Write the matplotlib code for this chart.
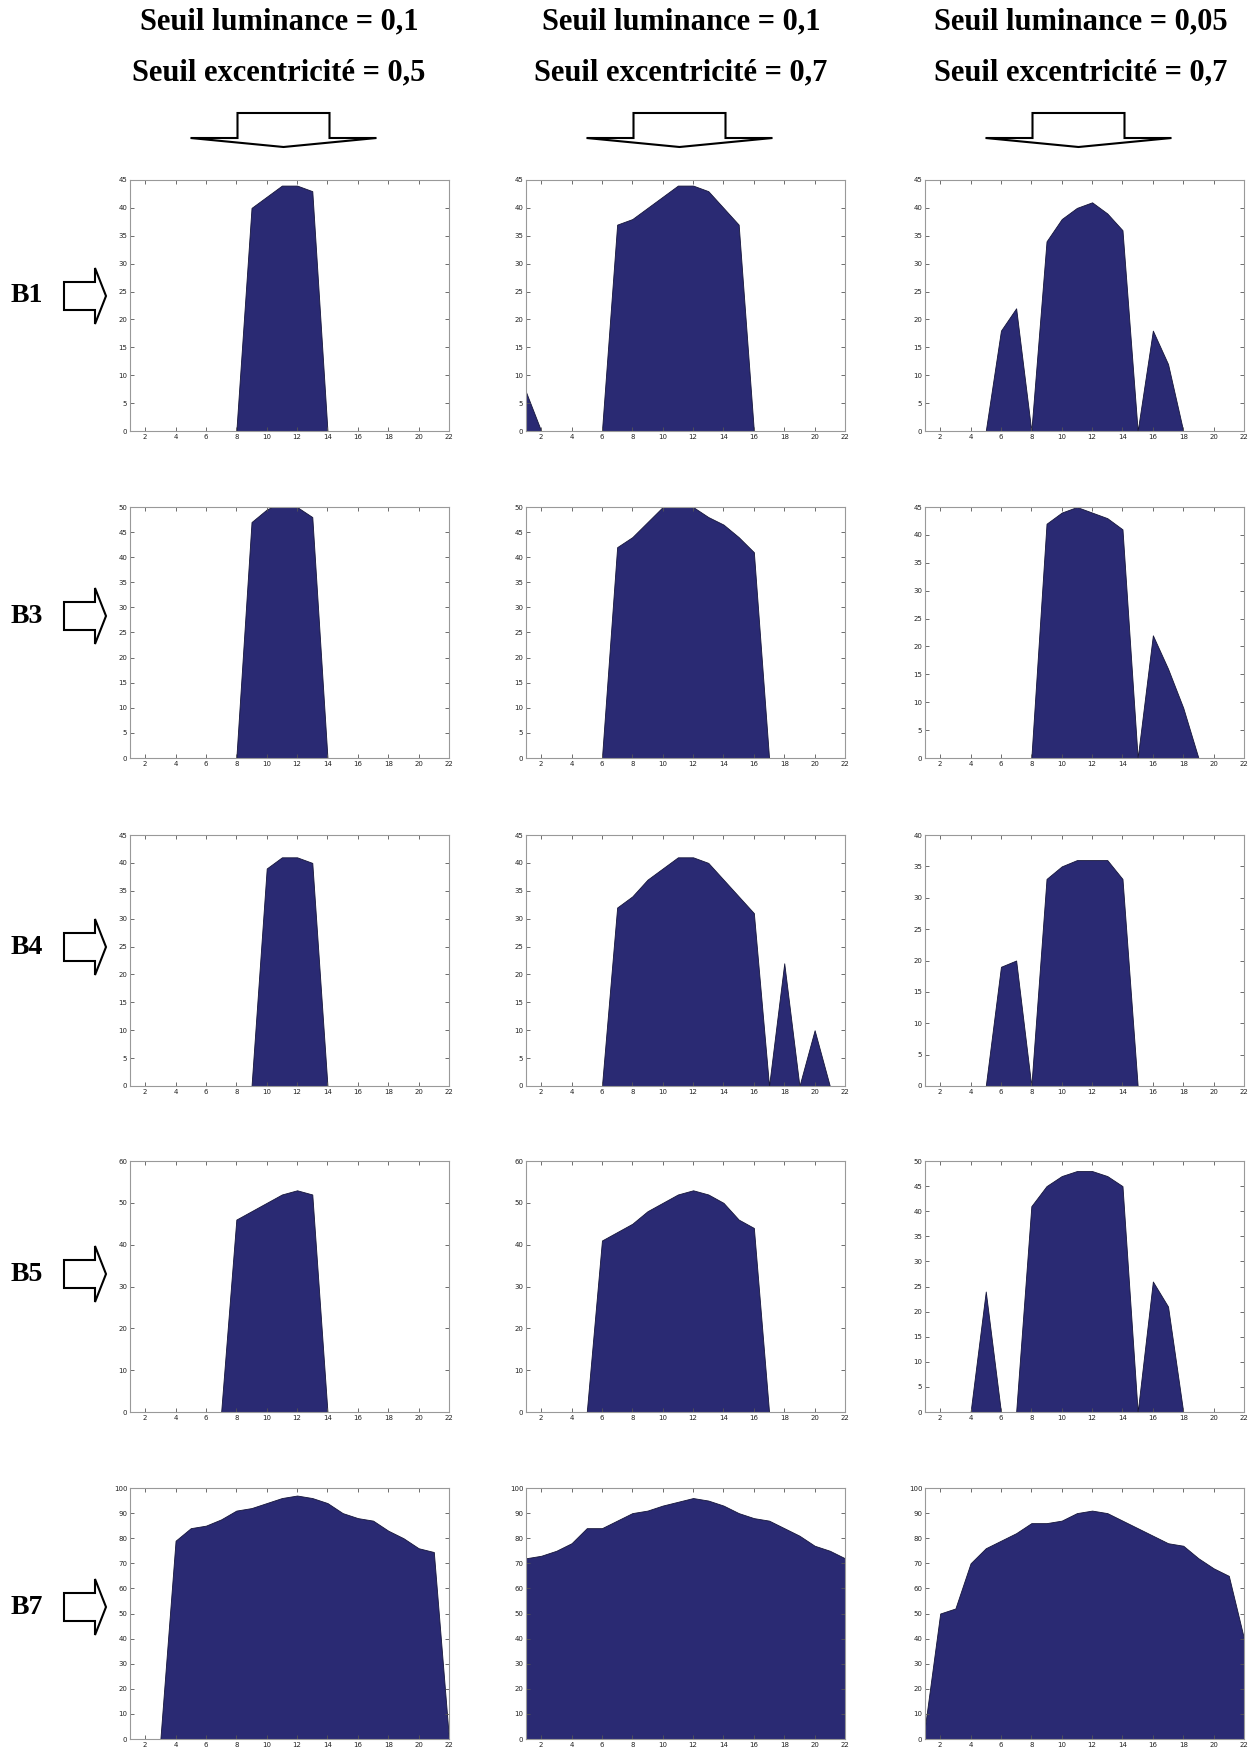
import matplotlib.pyplot as plt
from matplotlib.patches import Polygon

x = list(range(1, 23))

col_titles_1 = ['Seuil luminance = 0,1', 'Seuil luminance = 0,1', 'Seuil luminance = 0,05']
col_titles_2 = ['Seuil excentricité = 0,5', 'Seuil excentricité = 0,7', 'Seuil excentricité = 0,7']
row_labels = ['B1', 'B3', 'B4', 'B5', 'B7']

# one list of 22 values (x = 1..22) per panel
b1_a = [0, 0, 0, 0, 0, 0, 0, 0, 40, 42, 44, 44, 43, 0, 0, 0, 0, 0, 0, 0, 0, 0]
b1_b = [7, 0, 0, 0, 0, 0, 37, 38, 40, 42, 44, 44, 43, 40, 37, 0, 0, 0, 0, 0, 0, 0]
b1_c = [0, 0, 0, 0, 0, 18, 22, 0, 34, 38, 40, 41, 39, 36, 0, 18, 12, 0, 0, 0, 0, 0]

b3_a = [0, 0, 0, 0, 0, 0, 0, 0, 47, 49.5, 51, 50, 48, 0, 0, 0, 0, 0, 0, 0, 0, 0]
b3_b = [0, 0, 0, 0, 0, 0, 42, 44, 47, 50, 51, 50, 48, 46.5, 44, 41, 0, 0, 0, 0, 0, 0]
b3_c = [0, 0, 0, 0, 0, 0, 0, 0, 42, 44, 45, 44, 43, 41, 0, 22, 16, 9, 0, 0, 0, 0]

b4_a = [0, 0, 0, 0, 0, 0, 0, 0, 0, 39, 41, 41, 40, 0, 0, 0, 0, 0, 0, 0, 0, 0]
b4_b = [0, 0, 0, 0, 0, 0, 32, 34, 37, 39, 41, 41, 40, 37, 34, 31, 0, 22, 0, 10, 0, 0]
b4_c = [0, 0, 0, 0, 0, 19, 20, 0, 33, 35, 36, 36, 36, 33, 0, 0, 0, 0, 0, 0, 0, 0]

b5_a = [0, 0, 0, 0, 0, 0, 0, 46, 48, 50, 52, 53, 52, 0, 0, 0, 0, 0, 0, 0, 0, 0]
b5_b = [0, 0, 0, 0, 0, 41, 43, 45, 48, 50, 52, 53, 52, 50, 46, 44, 0, 0, 0, 0, 0, 0]
b5_c = [0, 0, 0, 0, 24, 0, 0, 41, 45, 47, 48, 48, 47, 45, 0, 26, 21, 0, 0, 0, 0, 0]

b7_a = [0, 0, 0, 79, 84, 85, 87.5, 91, 92, 94, 96, 97, 96, 94, 90, 88, 87, 83, 80, 76, 74.5, 0]
b7_b = [72, 73, 75, 78, 84, 84, 87, 90, 91, 93, 94.5, 96, 95, 93, 90, 88, 87, 84, 81, 77, 75, 72]
b7_c = [5, 50, 52, 70, 76, 79, 82, 86, 86, 87, 90, 91, 90, 87, 84, 81, 78, 77, 72, 68, 65, 40]

panels = [[b1_a, b1_b, b1_c],
          [b3_a, b3_b, b3_c],
          [b4_a, b4_b, b4_c],
          [b5_a, b5_b, b5_c],
          [b7_a, b7_b, b7_c]]
y_max = [[45, 45, 45], [50, 50, 45], [45, 45, 40], [60, 60, 50], [100, 100, 100]]

W, H = 1254, 1751
fig = plt.figure(figsize=(W / 100, H / 100), dpi=100)

col_left = [130, 526, 925]
row_top = [180, 507, 835, 1161, 1488]
ax_w, ax_h = 319, 251
fill_col = '#2a2a73'

for r in range(5):
    for c in range(3):
        ax = fig.add_axes([col_left[c] / W, 1 - (row_top[r] + ax_h) / H, ax_w / W, ax_h / H])
        ax.fill_between(x, panels[r][c], 0, facecolor=fill_col, edgecolor='#15153a', linewidth=0.6)
        ym = y_max[r][c]
        step = 10 if ym > 50 else 5
        ax.set_xlim(1, 22)
        ax.set_ylim(0, ym)
        ax.set_xticks(range(2, 23, 2))
        ax.set_yticks(range(0, ym + 1, step))
        ax.tick_params(direction='in', length=3, width=0.6, labelsize=5, colors='#555555',
                       top=True, right=True, pad=2)
        for lab in ax.get_xticklabels() + ax.get_yticklabels():
            lab.set_color('#222222')
        for s in ax.spines.values():
            s.set_color('#999999')
            s.set_linewidth(0.8)

# overlay in pixel coordinates for titles, labels and arrows
ov = fig.add_axes([0, 0, 1, 1])
ov.set_xlim(0, W)
ov.set_ylim(H, 0)
ov.axis('off')

title_x = [279, 681, 1081]
for c in range(3):
    ov.text(title_x[c], 22, col_titles_1[c], ha='center', va='center', fontsize=22,
            fontweight='bold', family='Liberation Serif')
    ov.text(title_x[c], 73, col_titles_2[c], ha='center', va='center', fontsize=22,
            fontweight='bold', family='Liberation Serif')
    cx = col_left[c] + ax_w / 2 - 6
    down = [(cx - 46, 113), (cx + 46, 113), (cx + 46, 138), (cx + 93, 138),
            (cx, 147), (cx - 93, 138), (cx - 46, 138)]
    ov.add_patch(Polygon(down, closed=True, facecolor='white', edgecolor='black', linewidth=1.5))

row_y = [296, 616, 947, 1274, 1607]
for r in range(5):
    cy = row_y[r]
    ov.text(27, cy, row_labels[r], ha='center', va='center', fontsize=20,
            fontweight='bold', family='Liberation Serif')
    right = [(64, cy - 14), (95, cy - 14), (95, cy - 28), (106, cy),
             (95, cy + 28), (95, cy + 14), (64, cy + 14)]
    ov.add_patch(Polygon(right, closed=True, facecolor='white', edgecolor='black', linewidth=1.5))

fig.savefig('out.png', dpi=100)
